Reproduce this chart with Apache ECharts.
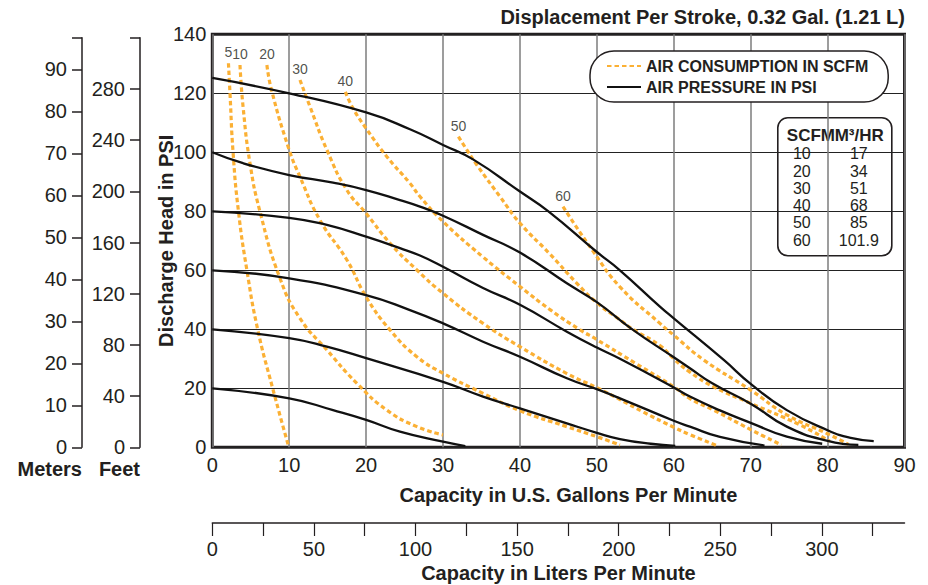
<!DOCTYPE html>
<html><head><meta charset="utf-8">
<script src="https://cdn.jsdelivr.net/npm/echarts@6/dist/echarts.min.js"></script>
<style>html,body{margin:0;padding:0;background:#fff}#c{width:928px;height:585px}</style>
</head><body><div id="c"></div>
<script>
// ---- Data (GPM, PSI) ----
const pressure125 = [[0,125.2],[10,120],[20,113.5],[25.7,107.8],[30,102.5],[33.9,97.6],[40,86.7],[43.7,80],[50,66.2],[53,60],[58.2,47.7],[60,43.7],[66.5,29.6],[70,21.5],[74.7,12.6],[80,5.8],[83,3.2],[86,2.1]];
const pressure100 = [[0,100],[4,96.3],[10,92.3],[15.7,89.7],[20,87.2],[24.4,83.8],[27,81.6],[30,78.5],[35.2,72],[40,66],[46.1,55.6],[50,49.2],[54.7,39.8],[60,30.5],[62.1,26.8],[65,21.7],[70,14.8],[74.7,7],[80,2.2],[84,0.8]];
const pressure80 = [[0,80],[10,77.8],[14.9,75.4],[20,71.4],[24.4,67.5],[27,65],[30,61.2],[35.2,54],[40,48.3],[46.1,39.2],[50,33.8],[53,30],[60,20.3],[62.1,17.2],[66,12.5],[70,8.3],[74.7,3.6],[79.3,1.2]];
const pressure60 = [[0,60],[10,57.3],[20,51.6],[25.7,46.5],[30,42],[35.2,35.8],[40,30.7],[46.1,23.4],[50,19.7],[53,16.6],[60,9],[62.1,7],[66,3.5],[71.8,0.6]];
const pressure40 = [[0,40],[10,37],[14.9,34.1],[20,30.2],[30,22.2],[35.2,17.2],[40,13.2],[46.1,8.1],[50,4.9],[53,2.8],[57,1.2],[60.2,0.5]];
const pressure20 = [[0,20],[10,16.6],[15.7,12.6],[20,9.3],[24.4,5.3],[30,1.9],[32.9,0.4]];

const air5  = [[2.1,130.2],[2.3,120],[2.7,100],[3.4,80],[4.5,60],[5.9,40],[7.85,20],[9.9,0.5]];
const air10 = [[3.6,129.6],[4.0,115.5],[4.9,96.3],[6.2,79.9],[8.8,57.3],[11.4,43.7],[14.9,33],[18.8,21.7],[22.7,12.6],[26.6,7],[30,4.2]];
const air20 = [[7.1,129.6],[7.7,121.1],[10,100.8],[11.4,91.7],[14,77],[17.5,63.5],[20,51],[23.1,39.8],[26.6,30.7],[30,25.1],[35.2,18.3],[40,12.4],[46.1,7],[50,3.6],[53,0.8]];
const air30 = [[11.4,124.5],[12.7,115.5],[14.9,100.8],[17.5,87.2],[20,79.3],[23.1,69.2],[26.6,60.1],[30,52.2],[35.2,42],[40,34.1],[46.1,25],[50,20.2],[53,16.2],[56,12],[60,6.8],[62.1,4.3],[65.6,0.6]];
const air40 = [[17.3,120.5],[18.3,114.9],[20,108.1],[22.7,98.5],[25.7,89.5],[27,85],[30,76.5],[35.2,64.5],[40,54.5],[44,46.5],[47.7,40],[50,36.5],[55,28.5],[60,20.5],[62.1,16.5],[65.2,12.6],[70,6],[74,0.8]];
const air50 = [[32,105.3],[33.1,100.8],[34.4,95.7],[37.4,85],[40,76],[43.9,65.5],[47.4,55.6],[50,49],[53,43.2],[54.7,40],[58.2,34.5],[60,30],[62.1,25.5],[65.2,20.5],[70,14.9],[76.4,7.6],[80.3,2]];
const air60 = [[45.6,81.6],[49.5,66.5],[53,54.4],[58.2,42],[60,38],[63.9,29.6],[70,19.4],[74.7,11],[80,4.6],[82.7,1]];

const airLabels = ['5','10','20','30','40','50','60'];
const tableScfm = ['10','20','30','40','50','60'];
const tableM3hr = ['17','34','51','68','85','101.9'];
const meterTicks = [0,10,20,30,40,50,60,70,80,90];
const feetTicks = [0,40,80,120,160,200,240,280];

const pressureCurves = [pressure125, pressure100, pressure80, pressure60, pressure40, pressure20];
const airCurves = [air5, air10, air20, air30, air40, air50, air60];

const GPM_MAX = 90, PSI_MAX = 140;
const LPM_MAX = GPM_MAX * 3.78541;
const FT_MAX = 320;
const M_MAX = FT_MAX / 3.28084;

const INK = '#231f20';
const ORANGE = '#FBB034';
const FONT = 'Liberation Sans, Arial, sans-serif';

const G = {left:212.3, top:34.3, width:692.2, height:413};
const AUX = {top:37.7, height:409.6};

const series = [];
pressureCurves.forEach(d => series.push({
  type:'line', name:'AIR PRESSURE IN PSI', data:d, xAxisIndex:0, yAxisIndex:0,
  smooth:0.5, symbol:'none', z:4,
  lineStyle:{color:'#111', width:2.3}, itemStyle:{color:'#111'}
}));
airCurves.forEach(d => series.push({
  type:'line', name:'AIR CONSUMPTION IN SCFM', data:d, xAxisIndex:0, yAxisIndex:0,
  smooth:0.5, symbol:'none', z:3,
  lineStyle:{color:ORANGE, width:3.2, type:[4.5,3]}, itemStyle:{color:ORANGE}
}));
series.push({
  type:'scatter', name:'scfmLabels', xAxisIndex:0, yAxisIndex:0, symbolSize:0, silent:true,
  data: airCurves.map((c,i)=>({value:c[0], name:airLabels[i]})),
  label:{show:true, position:'top', distance:4, formatter:'{b}', color:INK, fontSize:14, fontFamily:FONT}
});
series.push({type:'line', xAxisIndex:1, yAxisIndex:1, data:[], symbol:'none'});
series.push({type:'line', xAxisIndex:2, yAxisIndex:2, data:[], symbol:'none'});
series.push({type:'line', xAxisIndex:3, yAxisIndex:3, data:[], symbol:'none'});

const tableChildren = [
  {type:'rect', shape:{x:0,y:0,width:114,height:138,r:10}, style:{fill:'#fff', stroke:INK, lineWidth:1.6}},
  {type:'text', style:{text:'SCFM', x:9, y:18, fill:INK, font:'bold 17px '+FONT, textVerticalAlign:'middle'}},
  {type:'text', style:{text:'M³/HR', x:106, y:18, fill:INK, font:'bold 17px '+FONT, textAlign:'right', textVerticalAlign:'middle'}}
];
tableScfm.forEach((v,i)=>{
  tableChildren.push({type:'text', style:{text:v, x:24, y:36 + i*17.3, fill:INK, font:'16px '+FONT, textAlign:'center', textVerticalAlign:'middle'}});
  tableChildren.push({type:'text', style:{text:tableM3hr[i], x:81, y:36 + i*17.3, fill:INK, font:'16px '+FONT, textAlign:'center', textVerticalAlign:'middle'}});
});

const auxY = (gi, max, ticks, name) => ({
  gridIndex:gi, type:'value', min:0, max:max, position:'left',
  name:name, nameLocation:'start', nameGap:12, nameMoveOverlap:false,
  nameTextStyle:{color:INK, fontSize:20, fontWeight:'bold', fontFamily:FONT, align:'right', verticalAlign:'top'},
  axisLine:{show:true, lineStyle:{color:INK, width:1.5}},
  axisTick:{show:true, length:10, lineStyle:{color:INK, width:1.5}, customValues: ticks.concat([max])},
  axisLabel:{color:INK, fontSize:20, fontFamily:FONT, margin:15, customValues: ticks},
  splitLine:{show:false}
});

const hiddenX = gi => ({gridIndex:gi, type:'value', min:0, max:1, show:false});
const hiddenY = gi => ({gridIndex:gi, type:'value', min:0, max:1, show:false});

const option = {
  animation:false,
  backgroundColor:'#fff',
  textStyle:{fontFamily:FONT},
  title:{text:'Displacement Per Stroke, 0.32 Gal. (1.21 L)', right:23, top:7, padding:0,
    textStyle:{color:INK, fontSize:20, fontWeight:'bold', fontFamily:FONT}},
  legend:{
    data:['AIR CONSUMPTION IN SCFM','AIR PRESSURE IN PSI'],
    orient:'vertical', left:590, top:51,
    backgroundColor:'#fff', borderColor:INK, borderWidth:1.5, borderRadius:24,
    padding:[7,20,7,16], itemWidth:34, itemHeight:14, itemGap:5,
    itemStyle:{color:'rgba(0,0,0,0)', borderColor:'rgba(0,0,0,0)', borderWidth:0, opacity:0},
    textStyle:{color:INK, fontSize:16, fontWeight:'bold', fontFamily:FONT},
    selectedMode:false
  },
  grid:[
    {left:G.left, top:G.top, width:G.width, height:G.height, show:true, borderColor:INK, borderWidth:3, backgroundColor:'transparent'},
    {left:G.left, top:522, width:G.width, height:1},
    {left:82, top:AUX.top, width:10, height:AUX.height},
    {left:140, top:AUX.top, width:10, height:AUX.height}
  ],
  xAxis:[
    {gridIndex:0, type:'value', min:0, max:GPM_MAX, interval:10,
     name:'Capacity in U.S. Gallons Per Minute', nameLocation:'middle', nameGap:38, nameMoveOverlap:false,
     nameTextStyle:{color:INK, fontSize:20, fontWeight:'bold', fontFamily:FONT, padding:[0,0,0,20]},
     axisLine:{show:false}, axisTick:{show:false},
     axisLabel:{color:INK, fontSize:20, fontFamily:FONT, margin:8},
     splitLine:{show:true, lineStyle:{color:'#7d7d7d', width:1.5}}},
    {gridIndex:1, type:'value', min:0, max:LPM_MAX, interval:25, position:'bottom',
     name:'Capacity in Liters Per Minute', nameLocation:'middle', nameGap:40, nameMoveOverlap:false,
     nameTextStyle:{color:INK, fontSize:20, fontWeight:'bold', fontFamily:FONT},
     axisLine:{show:true, lineStyle:{color:INK, width:1.5}},
     axisTick:{show:true, length:13, lineStyle:{color:INK, width:1.2}},
     axisLabel:{color:INK, fontSize:20, fontFamily:FONT, margin:16, showMaxLabel:false,
       formatter: v => (Math.abs(v % 50) < 1e-6 ? String(v) : '')},
     splitLine:{show:false}},
    hiddenX(2), hiddenX(3)
  ],
  yAxis:[
    {gridIndex:0, type:'value', min:0, max:PSI_MAX, interval:20,
     name:'Discharge Head in PSI', nameLocation:'middle', nameGap:36, nameRotate:90, nameMoveOverlap:false,
     nameTextStyle:{color:INK, fontSize:20, fontWeight:'bold', fontFamily:FONT},
     axisLine:{show:false}, axisTick:{show:false},
     axisLabel:{color:INK, fontSize:20, fontFamily:FONT, margin:6},
     splitLine:{show:true, lineStyle:{color:'#222', width:1}}},
    hiddenY(1),
    auxY(2, M_MAX, meterTicks, 'Meters'),
    auxY(3, FT_MAX, feetTicks, 'Feet')
  ],
  graphic:[
    {type:'group', left:777, top:117, z:100, children:tableChildren}
  ],
  series:series
};

const chart = echarts.init(document.getElementById('c'), null, {renderer:'svg'});
chart.setOption(option);
</script>
</body></html>
